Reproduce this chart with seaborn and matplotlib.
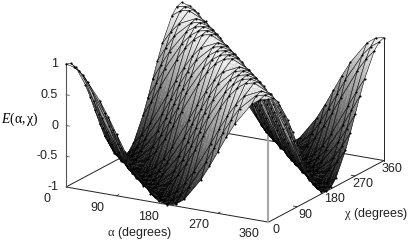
import matplotlib
matplotlib.use("Agg")
import matplotlib.pyplot as plt
import numpy as np
import seaborn as sns
from mpl_toolkits.mplot3d import proj3d
from mpl_toolkits.mplot3d.art3d import Poly3DCollection

alpha_deg = [0, 15, 30, 60, 75, 90, 105, 120, 150, 165, 180, 195, 210, 240, 255, 270, 285, 300, 330, 345, 360]
chi_deg = [0, 15, 30, 60, 75, 90, 105, 120, 150, 165, 180, 195, 210, 240, 255, 270, 285, 300, 330, 345, 360]

# one row per alpha
E_rows = [
    [1, .97, .87, .5, .26, 0, -.26, -.5, -.87, -.97, -1, -.97, -.87, -.5, -.26, 0, .26, .5, .87, .97, 1],
    [.97, .87, .71, .26, 0, -.26, -.5, -.71, -.97, -1, -.97, -.87, -.71, -.26, 0, .26, .5, .71, .97, 1, .97],
    [.87, .71, .5, 0, -.26, -.5, -.71, -.87, -1, -.97, -.87, -.71, -.5, 0, .26, .5, .71, .87, 1, .97, .87],
    [.5, .26, 0, -.5, -.71, -.87, -.97, -1, -.87, -.71, -.5, -.26, 0, .5, .71, .87, .97, 1, .87, .71, .5],
    [.26, 0, -.26, -.71, -.87, -.97, -1, -.97, -.71, -.5, -.26, 0, .26, .71, .87, .97, 1, .97, .71, .5, .26],
    [0, -.26, -.5, -.87, -.97, -1, -.97, -.87, -.5, -.26, 0, .26, .5, .87, .97, 1, .97, .87, .5, .26, 0],
    [-.26, -.5, -.71, -.97, -1, -.97, -.87, -.71, -.26, 0, .26, .5, .71, .97, 1, .97, .87, .71, .26, 0, -.26],
    [-.5, -.71, -.87, -1, -.97, -.87, -.71, -.5, 0, .26, .5, .71, .87, 1, .97, .87, .71, .5, 0, -.26, -.5],
    [-.87, -.97, -1, -.87, -.71, -.5, -.26, 0, .5, .71, .87, .97, 1, .87, .71, .5, .26, 0, -.5, -.71, -.87],
    [-.97, -1, -.97, -.71, -.5, -.26, 0, .26, .71, .87, .97, 1, .97, .71, .5, .26, 0, -.26, -.71, -.87, -.97],
    [-1, -.97, -.87, -.5, -.26, 0, .26, .5, .87, .97, 1, .97, .87, .5, .26, 0, -.26, -.5, -.87, -.97, -1],
    [-.97, -.87, -.71, -.26, 0, .26, .5, .71, .97, 1, .97, .87, .71, .26, 0, -.26, -.5, -.71, -.97, -1, -.97],
    [-.87, -.71, -.5, 0, .26, .5, .71, .87, 1, .97, .87, .71, .5, 0, -.26, -.5, -.71, -.87, -1, -.97, -.87],
    [-.5, -.26, 0, .5, .71, .87, .97, 1, .87, .71, .5, .26, 0, -.5, -.71, -.87, -.97, -1, -.87, -.71, -.5],
    [-.26, 0, .26, .71, .87, .97, 1, .97, .71, .5, .26, 0, -.26, -.71, -.87, -.97, -1, -.97, -.71, -.5, -.26],
    [0, .26, .5, .87, .97, 1, .97, .87, .5, .26, 0, -.26, -.5, -.87, -.97, -1, -.97, -.87, -.5, -.26, 0],
    [.26, .5, .71, .97, 1, .97, .87, .71, .26, 0, -.26, -.5, -.71, -.97, -1, -.97, -.87, -.71, -.26, 0, .26],
    [.5, .71, .87, 1, .97, .87, .71, .5, 0, -.26, -.5, -.71, -.87, -1, -.97, -.87, -.71, -.5, 0, .26, .5],
    [.87, .97, 1, .87, .71, .5, .26, 0, -.5, -.71, -.87, -.97, -1, -.87, -.71, -.5, -.26, 0, .5, .71, .87],
    [.97, 1, .97, .71, .5, .26, 0, -.26, -.71, -.87, -.97, -1, -.97, -.71, -.5, -.26, 0, .26, .71, .87, .97],
    [1, .97, .87, .5, .26, 0, -.26, -.5, -.87, -.97, -1, -.97, -.87, -.5, -.26, 0, .26, .5, .87, .97, 1],
]

angle_ticks = [0, 90, 180, 270, 360]
z_ticks = [-1, -0.5, 0, 0.5, 1]
z_tick_labels = ["-1", "-0.5", "0", "0.5", "1"]

sns.set_style("white")
plt.rcParams["font.family"] = ["Liberation Sans", "DejaVu Sans"]
plt.rcParams["mathtext.fontset"] = "custom"
plt.rcParams["mathtext.rm"] = "Liberation Serif"
plt.rcParams["mathtext.it"] = "Liberation Serif:italic"

W, H = 409, 241
fig = plt.figure(figsize=(W / 100, H / 100), dpi=100)
ax = fig.add_subplot(projection="3d", proj_type="ortho", computed_zorder=False)
ax.view_init(elev=17.7, azim=-60.3)
ax.set_box_aspect((233, 233, 129))
ax.set_xlim(0, 360)
ax.set_ylim(0, 360)
ax.set_zlim(-1, 1)
ax.set_axis_off()


def to_display(a, c, z):
    x2, y2, _ = proj3d.proj_transform(a, c, z, ax.get_proj())
    return ax.transData.transform((x2, y2))


def place_axes(size, x0=0.0, y0=0.0):
    ax.set_position([x0 / W, y0 / H, size / W, size / H])
    ax.apply_aspect()


# fit the box: corner (0,0,-1) at pixel (66,187), corner (360,360,-1) at (384,160)
size = 300.0
place_axes(size)
p0 = to_display(0, 0, -1)
p1 = to_display(360, 360, -1)
size *= (384 - 66) / (p1[0] - p0[0])
place_axes(size)
p0 = to_display(0, 0, -1)
place_axes(size, 66 - p0[0], (H - 187) - p0[1])

# box lines behind the surface
edge = dict(color="#222222", lw=0.7, zorder=1, solid_capstyle="butt")
ax.plot([0, 360, 360], [0, 0, 360], [-1, -1, -1], **edge)
ax.plot([0, 0, 360], [0, 360, 360], [-1, -1, -1], **edge)
ax.plot([0, 0], [0, 0], [-1, 1], color="#555555", lw=0.8, zorder=1)
ax.plot([360, 360], [0, 0], [-1, 1], color="#a8a8a8", lw=1.5, zorder=1)
ax.plot([360, 360], [360, 360], [-1, 1], color="#222222", lw=0.7, zorder=1)

# ticks
for t in angle_ticks[1:-1]:
    ax.plot([t, t], [0, 7], [-1, -1], color="#222222", lw=0.6, zorder=1)
    ax.plot([360, 353], [t, t], [-1, -1], color="#222222", lw=0.6, zorder=1)
for z in z_ticks:
    ax.plot([0, 6], [0, 0], [z, z], color="#555555", lw=0.6, zorder=1)

A = np.array(alpha_deg, dtype=float)
C = np.array(chi_deg, dtype=float)
E = np.array(E_rows)
cmap = sns.color_palette("gray", as_cmap=True)
shade = np.linspace(0, 1, 4)

# painter's order, far corner (alpha low, chi high) first, so hidden marks stay hidden
order = 10
nA, nC = len(A), len(C)
for i in range(nA - 1):
    for j in range(nC - 2, -1, -1):
        # shading inside one cell runs between its four corners
        polys, cols = [], []
        u, v = np.meshgrid(shade, shade, indexing="ij")
        xs = A[i] + u * (A[i + 1] - A[i])
        ys = C[j] + v * (C[j + 1] - C[j])
        zs = ((1 - u) * (1 - v) * E[i, j] + u * (1 - v) * E[i + 1, j]
              + (1 - u) * v * E[i, j + 1] + u * v * E[i + 1, j + 1])
        for p in range(len(shade) - 1):
            for q in range(len(shade) - 1):
                idx = [(p, q), (p + 1, q), (p + 1, q + 1), (p, q + 1)]
                polys.append([(xs[k], ys[k], zs[k]) for k in idx])
                cols.append(cmap(0.03 + 0.46 * (np.mean([zs[k] for k in idx]) + 1)))
        ax.add_collection3d(Poly3DCollection(polys, facecolors=cols, edgecolors=cols,
                                             linewidths=0.15, zorder=order))
        order += 1
        ii = [i, i + 1, i + 1, i, i]
        jj = [j, j, j + 1, j + 1, j]
        ax.plot(A[ii], C[jj], E[ii, jj], color="black", lw=0.35, zorder=order)
        order += 1
        pts = [(i, j + 1)]
        if j == 0:
            pts.append((i, 0))
        if i == nA - 2:
            pts.append((i + 1, j + 1))
            if j == 0:
                pts.append((i + 1, 0))
        for a, b in pts:
            ax.plot([A[a]], [C[b]], [E[a, b]], "o", color="black", ms=1.55, mew=0, zorder=order)
        order += 1


def label_at(a, c, z, text, dx, dy, ha="center"):
    xy = proj3d.proj_transform(a, c, z, ax.get_proj())[:2]
    ax.annotate(text, xy=xy, xycoords="data", xytext=(dx, dy), textcoords="offset pixels",
                ha=ha, va="center", fontsize=9, color="#222222", annotation_clip=False, zorder=order + 1)


for t in angle_ticks:
    label_at(t, 0, -1, str(t), -19, -12)
    label_at(360, t, -1, str(t), 8, -8)
for z, lab in zip(z_ticks, z_tick_labels):
    label_at(0, 0, z, lab, -8, 0, ha="right")

fig.text(139 / W, 1 - 233 / H, r"$\mathrm{α}$ (degrees)", ha="center", va="center", fontsize=9, color="#222222")
fig.text(376 / W, 1 - 214 / H, r"$\mathrm{χ}$ (degrees)", ha="center", va="center", fontsize=9, color="#222222")
fig.text(20 / W, 1 - 119 / H, r"$\mathit{E}\mathrm{(α,χ)}$", ha="center", va="center", fontsize=9.8, color="black")

fig.savefig("out.png", dpi=100, facecolor="white")
